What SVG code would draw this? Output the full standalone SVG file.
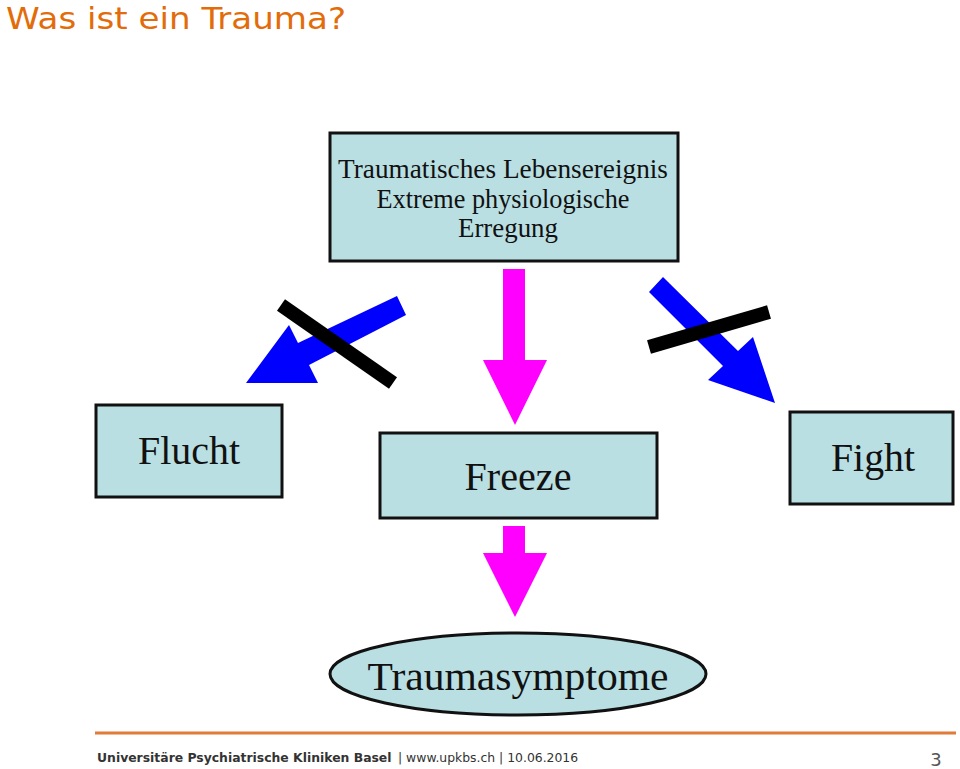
<svg xmlns="http://www.w3.org/2000/svg" width="960" height="769" viewBox="0 0 960 769">
<style>
.box{fill:#b9dfe3;stroke:#111;stroke-width:3}
.t{font-family:"Liberation Serif","Times New Roman",serif;fill:#111;text-anchor:middle}
.bar{stroke:#000;stroke-width:14}
.blue{fill:#0000ff}
.pink{fill:#ff00ff}
.f{font-family:"DejaVu Sans",Verdana,sans-serif;font-size:12.4px;fill:#333}
</style>
<rect width="960" height="769" fill="#fff"/>
<text x="6" y="29" font-family="DejaVu Sans,Verdana,sans-serif" font-size="31" fill="#e36c0a" textLength="340" lengthAdjust="spacingAndGlyphs">Was ist ein Trauma?</text>
<g id="top">
<rect class="box" x="330" y="133" width="348" height="128"/>
<text class="t" x="503" y="178" font-size="27" textLength="330" lengthAdjust="spacingAndGlyphs">Traumatisches Lebensereignis</text>
<text class="t" x="503" y="208" font-size="27" textLength="253" lengthAdjust="spacingAndGlyphs">Extreme physiologische</text>
<text class="t" x="508" y="237" font-size="27" textLength="100" lengthAdjust="spacingAndGlyphs">Erregung</text>
</g>
<g id="flucht">
<rect class="box" x="96" y="405" width="186" height="92"/>
<text class="t" x="189" y="464" font-size="39" textLength="102" lengthAdjust="spacingAndGlyphs">Flucht</text>
</g>
<g id="freeze">
<rect class="box" x="380" y="433" width="277" height="85"/>
<text class="t" x="518" y="490" font-size="39" textLength="107" lengthAdjust="spacingAndGlyphs">Freeze</text>
</g>
<g id="fight">
<rect class="box" x="790" y="412" width="163" height="92"/>
<text class="t" x="873" y="471" font-size="39" textLength="84" lengthAdjust="spacingAndGlyphs">Fight</text>
</g>
<g id="symptome">
<ellipse cx="518" cy="674" rx="188" ry="41" fill="#b9dfe3" stroke="#111" stroke-width="3"/>
<text class="t" x="518" y="690" font-size="41" textLength="301" lengthAdjust="spacingAndGlyphs">Traumasymptome</text>
</g>
<g id="connectors">
<polygon class="blue" points="397,296 406,315 309,365 318,383 246,383 289,325 298,343"/>
<line class="bar" x1="281" y1="305" x2="393" y2="383"/>
<polygon class="pink" points="503,269 525,269 525,360 547,360 515,425 483,360 503,360"/>
<polygon class="blue" points="663,277 738,351 753,337 775,403 708,380 723,366 649,292"/>
<line class="bar" x1="649" y1="347" x2="769" y2="312"/>
<polygon class="pink" points="503,526 525,526 525,553 547,553 515,617 483,553 503,553"/>
</g>
<line x1="95" y1="733" x2="956" y2="733" stroke="#e07b39" stroke-width="3"/>
<text class="f" x="97" y="762" font-weight="bold">Universitäre Psychiatrische Kliniken Basel</text>
<text class="f" x="398" y="762">| www.upkbs.ch | 10.06.2016</text>
<text x="936" y="766" font-family="DejaVu Sans,sans-serif" font-size="18" fill="#555" text-anchor="middle">3</text>
</svg>
